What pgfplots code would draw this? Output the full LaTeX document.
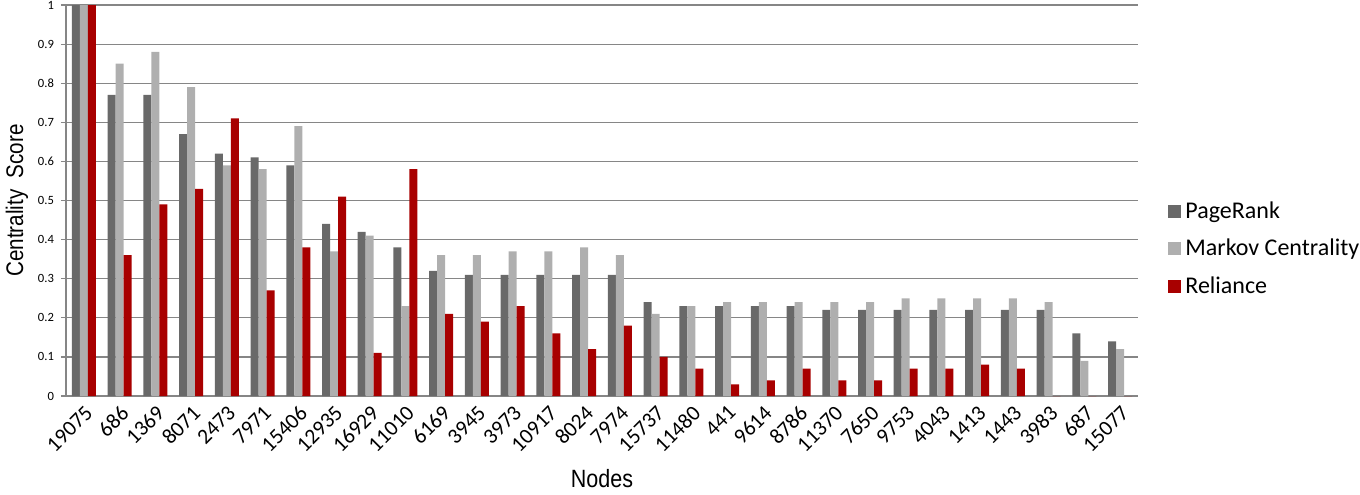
\documentclass[border=0pt]{standalone}
\usepackage{fontspec}
\setmainfont{Carlito}
\newfontfamily\arialn[FakeStretch=0.86]{Liberation Sans}
\usepackage{pgfplots}
\usepackage{pgfplotstable}
\pgfplotsset{compat=1.18}

\definecolor{prk}{HTML}{696969}
\definecolor{mkv}{HTML}{AFAFAF}
\definecolor{rel}{HTML}{A80000}
\definecolor{gridc}{HTML}{868686}

% centrality scores per node
\pgfplotstableread{
idx node  pr   mc   rel
0  19075 1.00 1.00 1.00
1  686   0.77 0.85 0.36
2  1369  0.77 0.88 0.49
3  8071  0.67 0.79 0.53
4  2473  0.62 0.59 0.71
5  7971  0.61 0.58 0.27
6  15406 0.59 0.69 0.38
7  12935 0.44 0.37 0.51
8  16929 0.42 0.41 0.11
9  11010 0.38 0.23 0.58
10 6169  0.32 0.36 0.21
11 3945  0.31 0.36 0.19
12 3973  0.31 0.37 0.23
13 10917 0.31 0.37 0.16
14 8024  0.31 0.38 0.12
15 7974  0.31 0.36 0.18
16 15737 0.24 0.21 0.10
17 11480 0.23 0.23 0.07
18 441   0.23 0.24 0.03
19 9614  0.23 0.24 0.04
20 8786  0.23 0.24 0.07
21 11370 0.22 0.24 0.04
22 7650  0.22 0.24 0.04
23 9753  0.22 0.25 0.07
24 4043  0.22 0.25 0.07
25 1413  0.22 0.25 0.08
26 1443  0.22 0.25 0.07
27 3983  0.22 0.24 0
28 687   0.16 0.09 0
29 15077 0.14 0.12 0
}\datatable

\begin{document}
\begin{tikzpicture}
\useasboundingbox (-33pt,-49pt) rectangle (647pt,198pt);
\begin{axis}[
    scale only axis,
    width=536pt, height=195.5pt,
    ybar=0pt, bar width=4pt,
    xmin=-0.5, xmax=29.5,
    ymin=0, ymax=1,
    xtick=data,
    xticklabels from table={\datatable}{node},
    ytick={0,0.1,0.2,0.3,0.4,0.5,0.6,0.7,0.8,0.9,1},
    yticklabels={0,0.1,0.2,0.3,0.4,0.5,0.6,0.7,0.8,0.9,1},
    axis x line*=bottom, axis y line*=left,
    axis line style={gridc, line width=0.6pt},
    ymajorgrids, grid style={gridc, line width=0.6pt},
    tick align=outside, major tick length=2.5pt,
    xtick style={draw=none},
    ytick style={gridc, line width=0.6pt},
    xticklabel style={font=\fontsize{10.8}{11}\selectfont, rotate=45, anchor=north east, inner sep=1pt},
    yticklabel style={font=\fontsize{6.3}{7}\selectfont},
    ylabel={Centrality\ \ Score},
    ylabel style={font=\arialn\fontsize{12}{12}\selectfont, at={(rel axis cs:-0.0457,0.5)}, anchor=center},
    xlabel={Nodes},
    xlabel style={font=\arialn\fontsize{12.5}{12}\selectfont, at={(rel axis cs:0.5,-0.21)}, anchor=center},
    legend style={at={(1.0224,0.376)}, anchor=west, draw=none,
        font=\fontsize{12}{14}\selectfont, row sep=5pt},
    legend cell align=left,
    legend image code/.code={\fill[#1] (0pt,-3.25pt) rectangle (6.5pt,3.25pt);},
]
\addplot[fill=prk, draw=none] table[x=idx, y=pr]{\datatable};
\addplot[fill=mkv, draw=none] table[x=idx, y=mc]{\datatable};
\addplot[fill=rel, draw=none] table[x=idx, y=rel]{\datatable};
\legend{PageRank, Markov Centrality, Reliance}
\end{axis}
\end{tikzpicture}
\end{document}
